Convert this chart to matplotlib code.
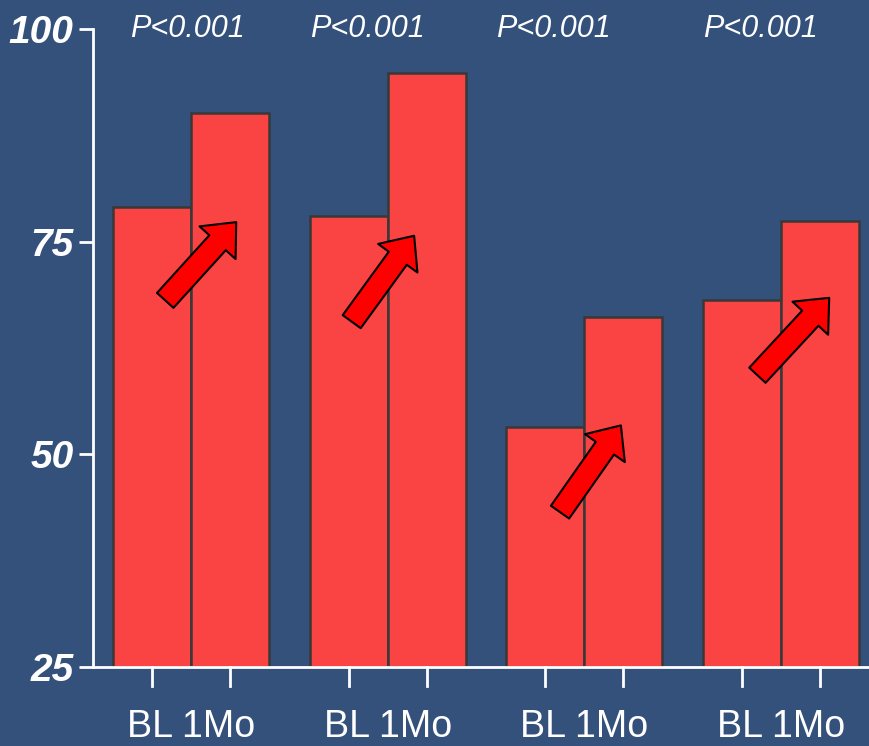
import numpy as np
import matplotlib
matplotlib.use('Agg')
import matplotlib.pyplot as plt
from matplotlib.patches import FancyArrowPatch

#######################################################
# Data
#######################################################

group_labels = ['BL 1Mo', 'BL 1Mo', 'BL 1Mo', 'BL 1Mo']
baseline = [79.1, 78.0, 53.2, 68.1]
one_month = [90.1, 94.8, 66.1, 77.4]
p_labels = ['P<0.001', 'P<0.001', 'P<0.001', 'P<0.001']
y_ticks = [25, 50, 75, 100]

# arrow tails / tips (data coords)
arrow_tails = [(0.17, 68.1), (2.56, 65.6), (5.23, 43.2), (7.76, 59.3)]
arrow_tips = [(1.08, 77.3), (3.36, 75.7), (6.01, 53.4), (8.68, 68.4)]

# P label x positions (data coords)
p_x = [0.46, 2.76, 5.15, 7.8]

#######################################################
# Style
#######################################################

bg = '#34517b'
bar_fill = '#fa4343'
bar_edge = '#383838'
white = '#ffffff'

group_step = 2.52
bl_x = np.arange(len(baseline)) * group_step
mo_x = bl_x + 1.0

fig = plt.figure(figsize=(8.69, 7.46), dpi=100)
fig.patch.set_facecolor(bg)
ax = fig.add_axes([0.107, 0.106, 0.893, 0.855])
ax.set_facecolor('none')

ax.bar(bl_x, np.array(baseline) - 25, bottom=25, width=1.0,
       color=bar_fill, edgecolor=bar_edge, linewidth=1.8, zorder=2)
ax.bar(mo_x, np.array(one_month) - 25, bottom=25, width=1.0,
       color=bar_fill, edgecolor=bar_edge, linewidth=1.8, zorder=2)

ax.set_xlim(-0.756, 9.19)
ax.set_ylim(25, 100)

# axes spines
for side in ['top', 'right']:
    ax.spines[side].set_visible(False)
for side in ['left', 'bottom']:
    ax.spines[side].set_color(white)
    ax.spines[side].set_linewidth(2.0)
    ax.spines[side].set_zorder(3)

ax.set_yticks(y_ticks)
ax.set_yticklabels([str(v) for v in y_ticks],
                   family='Liberation Sans',
                   fontsize=28, fontweight='bold', fontstyle='italic', color=white)
ax.tick_params(axis='y', length=10, width=2.0, color=white, pad=4)

ax.set_xticks(np.concatenate([bl_x, mo_x]))
ax.set_xticklabels([])
ax.tick_params(axis='x', direction='in', length=0)

# ticks below the x axis
for xx in np.concatenate([bl_x, mo_x]):
    ax.plot([xx, xx], [25, 25 - 19 / 8.507], color=white, lw=2.0,
            clip_on=False, zorder=3)

# group labels
for i, lab in enumerate(group_labels):
    ax.text(bl_x[i] + 0.5, 25 - 60 / 8.507, lab, ha='center', va='center',
            family='Liberation Sans', fontsize=27, color=white, clip_on=False)

# P values
for i, lab in enumerate(p_labels):
    ax.text(p_x[i], 100, lab, ha='center', va='center',
            family='Liberation Sans', fontsize=22, fontstyle='italic',
            color=white, clip_on=False)

# arrows
for tail, tip in zip(arrow_tails, arrow_tips):
    arr = FancyArrowPatch(tail, tip,
                          arrowstyle='simple,head_length=20,head_width=35,tail_width=16',
                          mutation_scale=1, shrinkA=0, shrinkB=0,
                          facecolor='#ff0000', edgecolor='black',
                          linewidth=1.5, zorder=4)
    ax.add_patch(arr)

fig.savefig('out.png', dpi=100, facecolor=bg)
